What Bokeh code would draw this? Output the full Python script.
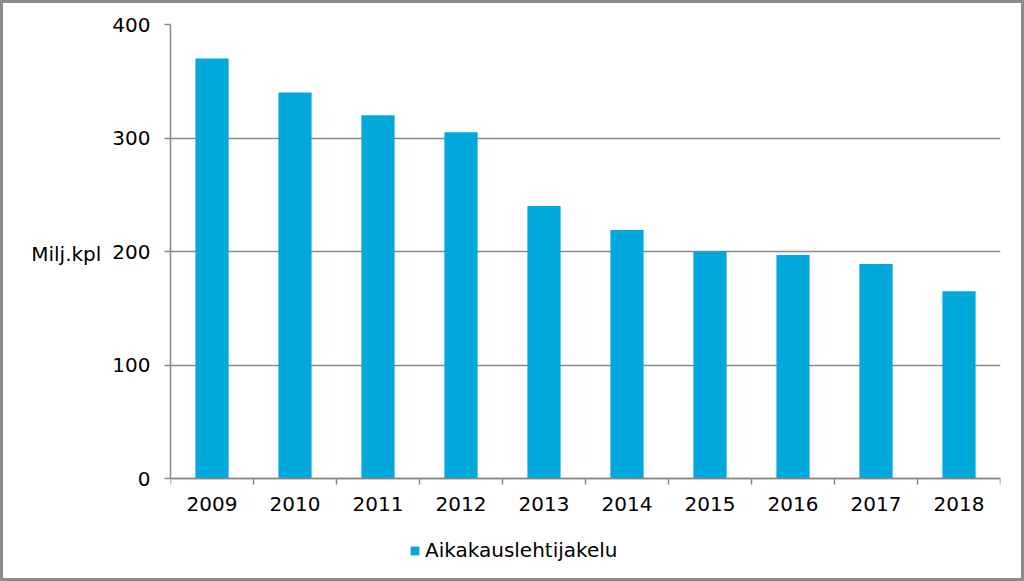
from bokeh.plotting import figure
from bokeh.models import FixedTicker, Legend, LegendItem, ColumnDataSource, Range1d
from bokeh.embed import file_html
from bokeh.resources import INLINE

years = ["2009", "2010", "2011", "2012", "2013", "2014", "2015", "2016", "2017", "2018"]
values = [370, 340, 320, 305, 240, 219, 200, 197, 189, 165]
y_ticks = [0, 100, 200, 300, 400]
series_name = "Aikakauslehtijakelu"
y_label = "Milj.kpl"

FONT = "DejaVu Sans"
GRAY = "#888888"
BAR = "#00A8DC"
FS = "20px"

pos = [i + 0.5 for i in range(len(years))]
src = ColumnDataSource(dict(x=pos, top=values, year=years))

# frame extends below the zero line to leave room for the legend inside it
p = figure(width=1024, height=581, output_backend="svg", toolbar_location=None,
           x_range=Range1d(0, len(years)), y_range=Range1d(-81, 400),
           min_border_left=167, min_border_right=27, min_border_top=21, min_border_bottom=14)
p.styles = {"border": "3px solid #8c8c8c"}
p.outline_line_color = None
p.background_fill_color = "white"
p.border_fill_color = "white"

r = p.vbar(x="x", top="top", bottom=0, width=0.4, source=src, fill_color=BAR, line_color=None)

xa = p.xaxis[0]
xa.fixed_location = 0
xa.ticker = FixedTicker(ticks=pos, minor_ticks=list(range(len(years) + 1)))
xa.major_label_overrides = {x: y for x, y in zip(pos, years)}
xa.major_tick_line_color = None
xa.minor_tick_line_color = GRAY
xa.minor_tick_line_width = 1.5
xa.minor_tick_in = 0
xa.minor_tick_out = 6
xa.axis_line_color = GRAY
xa.axis_line_width = 1.5
xa.major_label_text_font = FONT
xa.major_label_text_font_size = FS
xa.major_label_text_color = "black"
xa.major_label_standoff = 12

ya = p.yaxis[0]
ya.bounds = (0, 400)
ya.ticker = FixedTicker(ticks=y_ticks)
ya.minor_tick_line_color = None
ya.major_tick_line_color = GRAY
ya.major_tick_line_width = 1.5
ya.major_tick_in = 0
ya.major_tick_out = 6
ya.axis_line_color = GRAY
ya.axis_line_width = 1.5
ya.major_label_text_font = FONT
ya.major_label_text_font_size = FS
ya.major_label_text_color = "black"
ya.major_label_standoff = 14
# trailing blank lines lift the label up to the level of the 200 gridline
ya.axis_label = y_label + "\n \n \n "
ya.axis_label_orientation = "horizontal"
ya.axis_label_text_font = FONT
ya.axis_label_text_font_size = FS
ya.axis_label_text_font_style = "normal"
ya.axis_label_text_color = "black"
ya.axis_label_standoff = 8

p.xgrid.grid_line_color = None
p.ygrid.grid_line_color = GRAY
p.ygrid.grid_line_width = 1.5

legend = Legend(items=[LegendItem(label=series_name, renderers=[r])],
                location=(239, 8), orientation="horizontal",
                glyph_width=11, glyph_height=11, label_standoff=5,
                padding=0, margin=0, border_line_color=None,
                background_fill_alpha=0,
                label_text_font=FONT, label_text_font_size=FS,
                label_text_color="black", label_height=11)
p.add_layout(legend, "center")

open("out.html", "w").write(file_html(p, INLINE))
